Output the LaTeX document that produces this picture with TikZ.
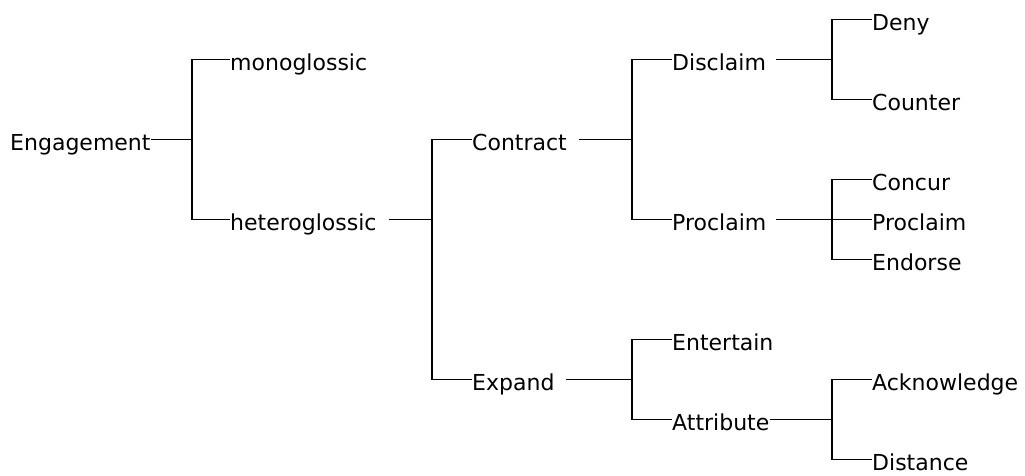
\documentclass[tikz,border=0pt]{standalone}
\usepackage{fontspec}
\setmainfont{DejaVu Sans}
\begin{document}
\begin{tikzpicture}[x=1pt,y=-1pt,
  lbl/.style={anchor=west,inner sep=0pt,text height=25pt,text depth=4pt,font=\fontsize{22}{26}\selectfont},
  conn/.style={line width=1.2pt,black}]
\useasboundingbox (0,0) rectangle (1025,475);
% nodes
\node[lbl] (eng) at (10,139.5) {Engagement};
\node[lbl] (mono) at (230,59.5) {monoglossic};
\node[lbl] (het) at (230,219.5) {heteroglossic};
\node[lbl] (con) at (472,139.5) {Contract};
\node[lbl] (exp) at (472,379.5) {Expand};
\node[lbl] (dis) at (672,59.5) {Disclaim};
\node[lbl] (pro) at (672,219.5) {Proclaim};
\node[lbl] (ent) at (672,339.5) {Entertain};
\node[lbl] (att) at (672,419.5) {Attribute};
\node[lbl] (deny) at (872,19.5) {Deny};
\node[lbl] (cou) at (872,99.5) {Counter};
\node[lbl] (conc) at (872,179.5) {Concur};
\node[lbl] (pro2) at (872,219.5) {Proclaim};
\node[lbl] (endo) at (872,259.5) {Endorse};
\node[lbl] (ack) at (872,379.5) {Acknowledge};
\node[lbl] (dist) at (872,459.5) {Distance};
% bracket points
\coordinate (b1) at (192,139.5);
\coordinate (b2) at (432,219.5);
\coordinate (b3) at (632,139.5);
\coordinate (b4) at (632,379.5);
\coordinate (b5) at (832,59.5);
\coordinate (b6) at (832,219.5);
\coordinate (b7) at (832,419.5);
% connectors
\draw[conn] (eng.east) -- (b1);
\draw[conn] (b1) |- (mono.west);
\draw[conn] (b1) |- (het.west);
\draw[conn] ([xshift=12pt]het.east) -- (b2);
\draw[conn] (b2) |- (con.west);
\draw[conn] (b2) |- (exp.west);
\draw[conn] ([xshift=12pt]con.east) -- (b3);
\draw[conn] (b3) |- (dis.west);
\draw[conn] (b3) |- (pro.west);
\draw[conn] ([xshift=11pt]exp.east) -- (b4);
\draw[conn] (b4) |- (ent.west);
\draw[conn] (b4) |- (att.west);
\draw[conn] ([xshift=10pt]dis.east) -- (b5);
\draw[conn] (b5) |- (deny.west);
\draw[conn] (b5) |- (cou.west);
\draw[conn] ([xshift=9pt]pro.east) -- (pro2.west);
\draw[conn] (b6) |- (conc.west);
\draw[conn] (b6) |- (endo.west);
\draw[conn] (att.east) -- (b7);
\draw[conn] (b7) |- (ack.west);
\draw[conn] (b7) |- (dist.west);
\end{tikzpicture}
\end{document}
